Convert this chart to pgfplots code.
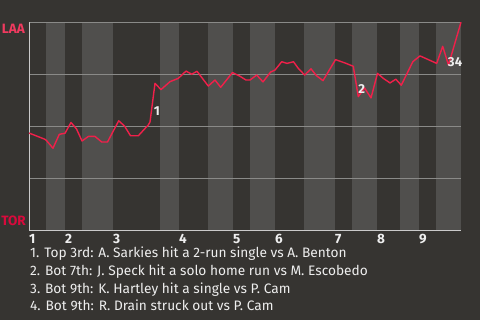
\documentclass[border=0pt]{standalone}
\usepackage{fontspec}
\setmainfont{Fira Sans}
\usepackage{pgfplots}
\pgfplotsset{compat=1.18}
\definecolor{bg}{HTML}{363431}
\definecolor{band}{HTML}{504F4D}
\definecolor{gridc}{HTML}{8A8A88}
\definecolor{axc}{HTML}{CACACA}
\definecolor{wp}{HTML}{F0204A}
\definecolor{laa}{HTML}{F03A5F}
\definecolor{tor}{HTML}{D80A3C}
\definecolor{txt}{HTML}{EEEEEE}
\begin{document}
\begin{tikzpicture}[x=1pt,y=1pt]
\fill[bg] (0,0) rectangle (480,320);
\begin{axis}[
  at={(29pt,90pt)}, anchor=south west,
  scale only axis, width=432pt, height=208pt,
  xmin=0, xmax=432, ymin=0, ymax=1,
  clip=false,
  axis line style={draw=none},
  major tick length=0pt,
  ytick=\empty,
  xtick={0,36,84,150,204,246,306,348,390},
  xticklabels={1,2,3,4,5,6,7,8,9},
  xticklabel style={anchor=north west, inner sep=0pt, yshift=-4pt,
    font=\bfseries\fontsize{13.5}{13.5}\selectfont, text=txt},
]
% half-inning bands
\addplot[fill=band, draw=none] coordinates {(17,1)(36,1)} \closedcycle;
\addplot[fill=band, draw=none] coordinates {(53,1)(84,1)} \closedcycle;
\addplot[fill=band, draw=none] coordinates {(131,1)(150,1)} \closedcycle;
\addplot[fill=band, draw=none] coordinates {(179,1)(204,1)} \closedcycle;
\addplot[fill=band, draw=none] coordinates {(221,1)(246,1)} \closedcycle;
\addplot[fill=band, draw=none] coordinates {(275,1)(306,1)} \closedcycle;
\addplot[fill=band, draw=none] coordinates {(323,1)(348,1)} \closedcycle;
\addplot[fill=band, draw=none] coordinates {(371,1)(390,1)} \closedcycle;
\addplot[fill=band, draw=none] coordinates {(407,1)(432,1)} \closedcycle;
% grid lines
\addplot[gridc, line width=0.8pt] coordinates {(0,0.25)(432,0.25)};
\addplot[gridc, line width=0.8pt] coordinates {(0,0.5)(432,0.5)};
\addplot[gridc, line width=0.8pt] coordinates {(0,0.75)(432,0.75)};
\addplot[gridc, line width=0.8pt] coordinates {(0,1)(432,1)};
\addplot[axc, line width=0.9pt] coordinates {(0,0)(0,1)};
\addplot[axc, line width=0.9pt] coordinates {(0,0)(432,0)};
% win probability
\addplot[wp, line width=1.4pt, line join=round] coordinates {
(0,0.466)(3.3,0.460)(16,0.436)(17.7,0.429)(24,0.393)(30.3,0.460)(36,0.465)
(42,0.517)(47.5,0.486)(53,0.428)(59.5,0.450)(66,0.450)(72.7,0.423)(78.5,0.423)
(89.7,0.525)(95.5,0.500)(101.5,0.453)(109.3,0.453)(119.3,0.505)(121,0.519)
(126,0.705)(132,0.675)(141,0.713)(149.3,0.729)(157,0.764)(162.7,0.749)(168,0.763)
(179.3,0.692)(186,0.721)(191.7,0.686)(203.5,0.757)(211,0.739)(217,0.721)(221,0.721)
(227.7,0.745)(234,0.712)(241.5,0.759)(246,0.769)(252.7,0.809)(258,0.801)(264.5,0.809)
(269.3,0.777)(275.7,0.745)(282,0.775)(287.2,0.743)(294,0.718)(306.5,0.819)(316,0.803)
(324.3,0.787)(329.3,0.641)(335.5,0.683)(342,0.635)(348.5,0.753)(354.3,0.729)
(361,0.707)(366.8,0.725)(372.3,0.696)(383.8,0.809)(391,0.837)(407.7,0.801)
(413.7,0.883)(419.5,0.793)(432,0.999)
};
\node[text=txt, font=\bfseries\fontsize{13}{13}\selectfont] at (axis cs:128,0.572) {1};
\node[text=txt, font=\bfseries\fontsize{13}{13}\selectfont] at (axis cs:332.7,0.676) {2};
\node[text=txt, font=\bfseries\fontsize{13}{13}\selectfont] at (axis cs:422.3,0.806) {3};
\node[text=txt, font=\bfseries\fontsize{13}{13}\selectfont] at (axis cs:429.6,0.806) {4};
\end{axis}
\node[anchor=north east, inner sep=0pt, text=laa, font=\bfseries\fontsize{13.5}{13.5}\selectfont] at (25,296) {LAA};
\node[anchor=base east, inner sep=0pt, text=tor, font=\bfseries\fontsize{13.5}{13.5}\selectfont] at (26,94.3) {TOR};
\begin{scope}[every node/.style={anchor=base west, inner sep=0pt, text=txt, font=\fontsize{13.7}{13.7}\selectfont}]
\node at (30,62) {1. Top 3rd: A. Sarkies hit a 2-run single vs A. Benton};
\node at (30,44.5) {2. Bot 7th: J. Speck hit a solo home run vs M. Escobedo};
\node at (30,26.5) {3. Bot 9th: K. Hartley hit a single vs P. Cam};
\node at (30,9) {4. Bot 9th: R. Drain struck out vs P. Cam};
\end{scope}
\pgfresetboundingbox
\useasboundingbox (0,0) rectangle (480,320);
\end{tikzpicture}
\end{document}
